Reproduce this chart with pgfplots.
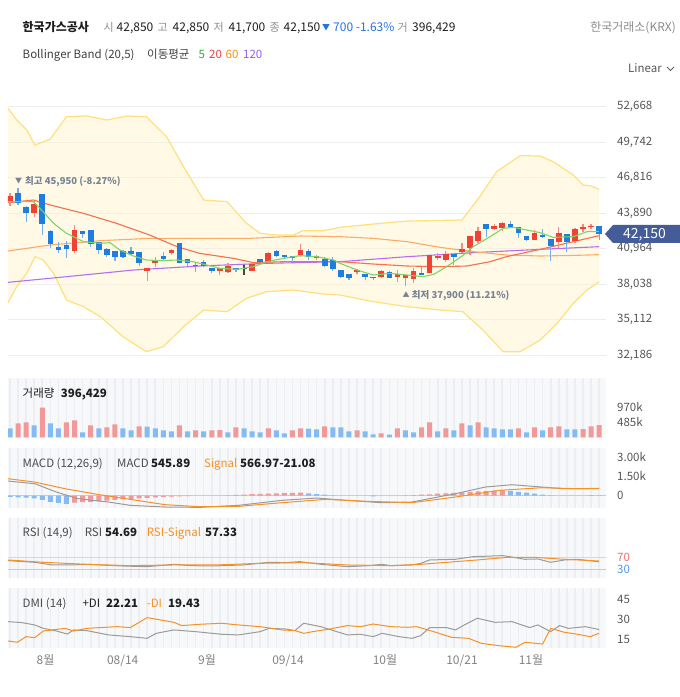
\documentclass[border=0pt]{standalone}
\usepackage{pgfplots}
\pgfplotsset{compat=1.18}
\usepackage{pgfplotstable}
\usepackage{fontspec}
\setmainfont{Noto Sans CJK KR}

\definecolor{candleup}{RGB}{240,66,52}
\definecolor{candledn}{RGB}{30,125,222}
\definecolor{wickup}{RGB}{244,140,130}
\definecolor{wickdn}{RGB}{115,172,230}
\definecolor{bandline}{RGB}{255,224,125}
\definecolor{bandfill}{RGB}{255,243,205}
\definecolor{maG}{RGB}{125,212,105}
\definecolor{maR}{RGB}{246,112,78}
\definecolor{maO}{RGB}{250,172,102}
\definecolor{maP}{RGB}{178,112,240}
\definecolor{gridc}{RGB}{236,238,242}
\definecolor{panelbg}{RGB}{247,248,250}
\definecolor{stripe}{RGB}{236,238,243}
\definecolor{volred}{RGB}{242,152,152}
\definecolor{volblue}{RGB}{132,187,245}
\definecolor{lgrey}{RGB}{155,155,155}
\definecolor{lorange}{RGB}{247,145,35}
\definecolor{ticktxt}{RGB}{85,85,85}
\definecolor{hdrgrey}{RGB}{140,140,140}
\definecolor{dark}{RGB}{30,30,30}
\definecolor{downblue}{RGB}{35,115,225}
\definecolor{annot}{RGB}{120,130,150}
\definecolor{tagblue}{RGB}{68,92,152}
\definecolor{zeroline}{RGB}{205,205,205}
\definecolor{rsired}{RGB}{240,110,110}
\definecolor{rsiblue}{RGB}{80,150,235}
\definecolor{rsiredl}{RGB}{250,200,200}
\definecolor{rsibluel}{RGB}{175,212,250}
\definecolor{dojic}{RGB}{70,70,70}
\definecolor{legG}{RGB}{40,180,40}
\definecolor{legR}{RGB}{240,60,60}
\definecolor{legO}{RGB}{250,140,20}
\definecolor{legP}{RGB}{150,90,240}
\definecolor{dategrey}{RGB}{130,130,130}

% candles: i open high low close
\pgfplotstableread{
i o h l c
0 44835 45577 44477 45302
3 43872 44917 43542 44642
8 40765 42910 40627 42497
17 39142 39400 38290 39390
18 39747 40297 39417 40022
20 40627 40900 40435 40847
26 39115 39400 38785 39390
27 38997 39747 38990 39527
30 39115 39747 39100 39692
32 39885 40650 39880 40627
36 40435 41342 40297 40847
38 40160 40435 40022 40352
43 39005 39250 38840 39197
46 38647 39197 38565 39115
48 38647 39197 38235 38840
49 38565 38800 37900 38785
50 38427 39335 38097 39115
52 38977 40450 38922 40435
53 40160 40570 40022 40352
54 40022 40765 39885 40517
56 40710 41452 40627 40930
57 40985 42020 40435 42002
58 41590 42772 41396 42442
60 42552 42992 42497 42827
61 42635 43185 42415 43102
65 41672 42497 41660 42277
68 41535 42772 40985 42222
70 41617 42635 41396 42552
71 42552 42992 42305 42772
72 42717 42992 42552 42850
}\upc

\pgfplotstableread{
i o h l c
1 45522 45950 44560 44697
2 44422 44500 43185 43872
4 45440 45480 42085 42965
5 42442 42460 41040 41315
6 41122 41480 40627 40847
7 41260 41600 40160 40930
9 42415 42430 41810 42167
10 42497 42510 41122 41315
11 41480 41500 40517 40847
12 40930 41040 40297 40435
13 40792 40800 39940 40297
14 40792 40860 40160 40297
15 40792 41122 40435 40517
16 40710 40720 39527 39747
19 40352 40710 40022 40105
21 41397 41452 39747 39747
22 40077 40090 39527 39747
23 39637 39885 39060 39527
24 39885 40022 39417 39527
25 39390 39400 38922 39115
28 39390 39400 39060 39197
31 40105 40110 39880 39885
33 40765 40850 40297 40352
34 40462 40470 40160 40242
35 40380 40390 39885 40160
37 40765 40930 40022 40242
39 40105 40297 39417 39555
40 40022 40297 39142 39252
41 39197 39210 38510 38592
42 38840 38850 38372 38510
44 38867 38880 38372 38647
45 38647 38660 38372 38510
47 39060 39115 38510 38565
51 38922 39417 38780 38785
55 40517 40530 39610 40242
59 42992 43000 41892 42580
62 42992 43267 42760 42772
63 42717 42730 41810 42222
64 42002 42010 41590 41672
66 42085 42552 41810 41892
67 41727 41740 39967 41177
69 42167 42180 40655 41535
73 42850 42850 41700 42150
}\dnc

\pgfplotstableread{
i o h l c
29 39360 39610 38785 39310
}\flc

% volume (thousands)
\pgfplotstableread{
i v
1 455
2 487
4 964
7 487
8 552
10 390
12 325
13 422
16 357
21 390
23 227
25 227
26 235
28 325
32 292
35 227
36 292
39 357
43 227
46 130
48 292
51 325
52 487
54 292
56 455
58 487
63 292
65 325
67 325
68 357
71 265
72 357
73 396.429
}\volr

\pgfplotstableread{
i v
0 292
3 390
5 455
6 292
9 162
11 292
14 292
15 227
17 350
18 292
19 227
20 195
22 195
24 195
27 162
29 292
30 195
31 162
33 227
34 130
37 285
38 260
40 325
41 320
42 195
44 195
45 97
47 90
49 227
50 162
53 195
55 227
57 390
59 325
60 292
61 260
62 255
64 162
66 227
69 260
70 255
}\volb

% MACD histogram
\pgfplotstableread{
i v
8 -540
9 -500
10 -480
11 -430
12 -380
13 -330
14 -290
15 -250
16 -210
17 -170
18 -130
19 -100
20 -80
21 -60
22 -40
27 26
28 60
29 90
30 120
31 145
32 165
33 185
34 205
35 225
36 230
49 26
50 50
51 80
52 110
53 150
54 180
55 220
56 260
57 290
58 330
59 360
60 390
61 410
72 40
}\hr

\pgfplotstableread{
i v
0 -100
1 -120
2 -150
3 -200
4 -330
5 -480
6 -560
7 -620
37 180
38 128
39 77
40 26
45 -50
62 360
63 300
64 230
65 160
66 80
67 25
73 -21.08
}\hb

\pgfplotsset{
  panel/.style={anchor=south west, scale only axis, width=598pt,
    xmin=-0.248, xmax=73.85, axis line style={draw=none},
    axis background/.style={fill=panelbg},
    xtick={0,...,73}, xticklabel=\empty, xmajorgrids, ymajorgrids=false,
    x grid style={stripe, line width=1.6pt}, scaled y ticks=false,
    major tick length=0pt, yticklabel pos=right,
    yticklabel style={anchor=west, inner sep=0pt, xshift=11pt,
      font=\fontsize{11.5}{13}\selectfont, text=ticktxt},
    /pgf/number format/assume math mode=true, clip=true}
}

\begin{document}
\begin{tikzpicture}[x=1pt,y=1pt,font=\fontsize{12}{14}\selectfont]
\useasboundingbox (0pt,0pt) rectangle (680pt,697pt);

% ---------------- main price panel ----------------
\begin{axis}[at={(8pt,332pt)}, anchor=south west, scale only axis,
  width=598pt, height=270pt, xmin=-0.248, xmax=73.85, ymin=31361, ymax=53633,
  axis line style={draw=none}, xtick=\empty, scaled y ticks=false,
  ytick={32186,35112,38038,40964,43890,46816,49742,52668},
  yticklabels={{32,186},{35,112},{38,038},{40,964},{43,890},{46,816},{49,742},{52,668}},
  ymajorgrids, y grid style={gridc, line width=0.8pt},
  major tick length=0pt, yticklabel pos=right,
  yticklabel style={anchor=west, inner sep=0pt, xshift=11pt,
    font=\fontsize{11.5}{13}\selectfont, text=ticktxt},
  /pgf/number format/assume math mode=true, clip=true]

% Bollinger band area (upper band forward, lower band backward)
\addplot[fill=bandfill, fill opacity=0.5, draw=none] coordinates {
(-0.25,52534) (0.83,51571) (2.07,50746) (3.1,49508) (4.96,49976) (7.0,51846)
(9.5,51901) (12,51571) (14.5,51901) (16.9,51846) (19.4,50196) (21.5,47721)
(24,44971) (26.9,44833) (29.3,43046) (31,42221) (33,42083) (35.1,42083)
(36.3,42441) (38.8,42441) (40.9,42716) (45,42991) (49.2,43238) (51.7,43266)
(56,43321) (58.2,45246) (60.3,47309) (63.2,48629) (65.7,48600) (67.3,48134)
(69.8,47034) (71,46209) (71.9,46150) (73,45851)
(73,38233) (71.5,37546) (69.8,36446) (67.8,34796) (65.7,33421) (63.2,32459)
(61.1,32459) (58.6,34246) (56.1,35758) (53.3,35896) (49.2,36171) (45,36583)
(40.9,37133) (38.8,37216) (35.1,37546) (31.8,37408) (29.3,36858) (26.9,35758)
(24,35896) (21.5,34521) (19,32871) (16.9,32459) (14,33696) (11.2,35346)
(9.1,36171) (7,36721) (5.4,38921) (4.1,40021) (3.1,40296) (2.07,38921)
(0.83,37821) (-0.25,36500)} -- cycle;

\addplot[bandline, line width=1.2pt] coordinates {
(-0.25,52534) (0.83,51571) (2.07,50746) (3.1,49508) (4.96,49976) (7.0,51846)
(9.5,51901) (12,51571) (14.5,51901) (16.9,51846) (19.4,50196) (21.5,47721)
(24,44971) (26.9,44833) (29.3,43046) (31,42221) (33,42083) (35.1,42083)
(36.3,42441) (38.8,42441) (40.9,42716) (45,42991) (49.2,43238) (51.7,43266)
(56,43321) (58.2,45246) (60.3,47309) (63.2,48629) (65.7,48600) (67.3,48134)
(69.8,47034) (71,46209) (71.9,46150) (73,45851)};
\addplot[bandline, line width=1.2pt] coordinates {
(-0.25,36500) (0.83,37821) (2.07,38921) (3.1,40296) (4.1,40021) (5.4,38921)
(7,36721) (9.1,36171) (11.2,35346) (14,33696) (16.9,32459) (19,32871)
(21.5,34521) (24,35896) (26.9,35758) (29.3,36858) (31.8,37408) (35.1,37546)
(38.8,37216) (40.9,37133) (45,36583) (49.2,36171) (53.3,35896) (56.1,35758)
(58.6,34246) (61.1,32459) (63.2,32459) (65.7,33421) (67.8,34796) (69.8,36446)
(71.5,37546) (73,38233)};

% moving averages
\addplot[maP, line width=1.1pt] coordinates {
(-0.25,38178) (7,38646) (15.3,39196) (23.5,39526) (31.8,39746) (40.9,39883)
(49.2,40296) (57.4,40626) (65.7,40901) (73,41121)};
\addplot[maO, line width=1.1pt] coordinates {
(-0.25,40763) (4.96,41258) (11.2,41616) (17.3,41808) (23.5,41808) (29.7,41808)
(36,42001) (40.9,41946) (45,41808) (49.2,41533) (53.3,41066) (57.4,40708)
(61.5,40433) (65.7,40351) (69.8,40400) (73,40461)};
\addplot[maR, line width=1.1pt] coordinates {
(-0.25,44751) (2.9,44971) (5,44558) (9.1,43871) (13.2,43046) (17.3,42083)
(20.7,41121) (23.5,40571) (27.7,40158) (30.2,39801) (33.9,39883) (38,39883)
(40.9,39883) (45,39691) (49.2,39526) (53.3,39471) (56.6,39526) (59.5,39883)
(61.5,40296) (65.7,40901) (69.8,41533) (73,42028)};

% candles: wicks (low -> high)
\addplot[wickup, line width=1.2pt, quiver={u=0, v=\thisrow{h}-\thisrow{l}}, -] table[x=i, y=l] {\upc};
\addplot[wickdn, line width=1.2pt, quiver={u=0, v=\thisrow{h}-\thisrow{l}}, -] table[x=i, y=l] {\dnc};
\addplot[dojic, line width=1.2pt, quiver={u=0, v=\thisrow{h}-\thisrow{l}}, -] table[x=i, y=l] {\flc};
% candles: bodies (open -> close)
\addplot[candleup, line width=5.6pt, quiver={u=0, v=\thisrow{c}-\thisrow{o}}, -] table[x=i, y=o] {\upc};
\addplot[candledn, line width=5.6pt, quiver={u=0, v=\thisrow{c}-\thisrow{o}}, -] table[x=i, y=o] {\dnc};
\addplot[dojic, line width=5.6pt, quiver={u=0, v=\thisrow{c}-\thisrow{o}}, -] table[x=i, y=o] {\flc};

\addplot[maG, line width=1.1pt] coordinates {
(-0.25,44833) (2.9,44833) (4.1,44008) (5.4,43046) (7,42221) (9.1,41533)
(11.2,41396) (12.4,41450) (13.6,40846) (15.3,40351) (16.9,40021) (18.6,39970)
(20.7,40021) (22.7,39883) (24.4,39608) (26,39333) (28.1,39250) (30.2,39471)
(31.8,39883) (33.9,40158) (35.9,40378) (38,40300) (40.1,40021) (40.9,39746)
(43,39196) (45,38783) (47.1,38920) (49.2,38783) (51.2,38646) (52.5,38838)
(54.1,39471) (56.2,40433) (57.4,41121) (59.5,41946) (61.1,42633) (62.4,42716)
(64,42496) (65.7,42276) (67.3,41891) (69.8,41946) (71.5,42358) (73,42358)};
\end{axis}

% ---------------- volume ----------------
\begin{axis}[panel, at={(8pt,258.7pt)}, height=60pt, ymin=-32.5, ymax=1917.5,
  ytick={485,970}, yticklabels={485k,970k}]
\addplot[ybar, bar width=5pt, bar shift=0pt, fill=volred, draw=none] table[x=i,y=v] {\volr};
\addplot[ybar, bar width=5pt, bar shift=0pt, fill=volblue, draw=none] table[x=i,y=v] {\volb};
\end{axis}

% ---------------- MACD ----------------
\begin{axis}[panel, at={(8pt,189.3pt)}, height=59.4pt, ymin=-923, ymax=3645,
  ytick={0,1500,3000}, yticklabels={0,1.50k,3.00k}]
\addplot[zeroline, line width=0.8pt] coordinates {(-0.3,0) (74,0)};
\addplot[ybar, bar width=5pt, bar shift=0pt, fill=volred, draw=none] table[x=i,y=v] {\hr};
\addplot[ybar, bar width=5pt, bar shift=0pt, fill=volblue, draw=none] table[x=i,y=v] {\hb};
\addplot[lgrey, line width=1pt] coordinates {
(-0.25,1126) (3.06,922) (5.75,282) (8.4,-230) (12.2,-486) (14.9,-742) (19.2,-870)
(23.5,-896) (28.3,-742) (33.7,-358) (38,-179) (41.7,-358) (46,-538) (49.8,-486)
(55.2,154) (58.9,666) (62.2,845) (65.9,666) (68.6,538) (73,546)};
\addplot[lorange, line width=1pt] coordinates {
(-0.25,1306) (3.06,1050) (6.8,538) (11.1,77) (14.9,-282) (19.2,-691) (23.5,-845)
(28.3,-819) (33.7,-538) (39.1,-282) (44.4,-435) (49.8,-538) (55.2,-102)
(60.6,410) (65.9,614) (70.2,538) (73,567)};
\end{axis}

% ---------------- RSI ----------------
\begin{axis}[panel, at={(8pt,119.3pt)}, height=59.4pt, ymin=0.3, ymax=203.3,
  ytick={30,70}, yticklabels={\textcolor{rsiblue}{30},\textcolor{rsired}{70}}]
\addplot[rsiredl, line width=0.8pt] coordinates {(-0.3,70) (74,70)};
\addplot[rsibluel, line width=0.8pt] coordinates {(-0.3,30) (74,30)};
\addplot[lgrey, line width=1pt] coordinates {
(-0.25,58.6) (3.06,52.9) (5.2,43.8) (7.4,43.8) (9.5,46) (13.8,40.4) (17,38)
(20.3,46) (22.4,41.5) (25.1,40.4) (28.9,43.8) (32.1,52.9) (34.2,51.8) (35.9,55.2)
(38.5,46) (41.8,38) (44.5,41.5) (46.1,46) (47.2,41.5) (49.8,43.8) (50.9,49.5)
(52,60.9) (55.2,63.2) (57.4,72.3) (61.1,75.7) (63.8,63.2) (65.4,64.3) (67,52.9)
(68.7,60.9) (70.3,63.2) (73,54.7)};
\addplot[lorange, line width=1pt] coordinates {
(-0.25,60.9) (4.14,52.9) (9.5,46) (14.9,41.5) (20.3,43.8) (25.6,43.8) (31,49.5)
(36.4,51.8) (41.8,43.8) (47.2,41.5) (50.9,46) (55.2,55.2) (57.9,60.9) (61.7,70)
(64.9,70) (68.7,63.2) (73,57.3)};
\end{axis}

% ---------------- DMI ----------------
\begin{axis}[panel, at={(8pt,48.7pt)}, height=60pt, ymin=7.92, ymax=53.6,
  ytick={15,30,45}]
\addplot[lgrey, line width=1pt] coordinates {
(-0.25,28.2) (1.45,27.5) (3.06,25.7) (4.14,23.1) (5.75,21.1) (7.1,18.8) (7.9,21.9)
(9.5,21.4) (12.2,18.1) (14.9,16.8) (17,15.5) (18.1,19.3) (20.3,21.9) (23,20.6)
(26.2,18.6) (28.3,18.1) (31,20.6) (32.1,23.1) (34.2,22.6) (35.3,21.4) (36.4,27)
(38.5,24.4) (41.8,18.1) (43.4,18.6) (45,16.8) (46.1,19.3) (48.2,16.8) (49.8,15.5)
(50.9,17.6) (52,23.7) (54.1,23.7) (55.2,21.9) (56.3,25.7) (57.9,30.8) (60.1,27.7)
(62.2,28.2) (64.4,23.7) (65.4,25.7) (67,20.6) (68.1,25.2) (69.2,23.1) (71.3,24.4)
(73,22.2)};
\addplot[lorange, line width=1pt] coordinates {
(-0.25,13.5) (0.91,12.5) (1.99,16.8) (3.06,16) (4.14,21.1) (6.83,23.1) (7.9,21.1)
(9.5,23.1) (13.3,24.4) (14.9,23.7) (17,31.3) (20.3,27.7) (21.3,25.2) (23.5,26.2)
(26.2,27) (28.3,25.7) (31,24.4) (33.7,21.9) (35.3,21.4) (36.4,19.3) (37.5,20.6)
(39.6,22.6) (41.8,25.2) (43.4,24.4) (45,26.4) (47.2,24.4) (49.3,23.9) (50.4,24.4)
(52.5,20.6) (54.7,16.3) (56.8,15.5) (58.4,11.7) (60.6,9.9) (62.7,8.7) (63.8,12.5)
(66,11.2) (67,23.1) (68.7,20.1) (70.3,18.6) (71.9,16.8) (73,19.4)};
\end{axis}

% ---------------- header ----------------
\begin{scope}[every node/.style={inner sep=0pt, anchor=base west}]
\node[text=dark] at (22.5,665.5) {\bfseries 한국가스공사};
\begin{scope}[font=\fontsize{11}{13}\selectfont]
\node[text=hdrgrey] at (103.5,665.5) {시};
\node[text=hdrgrey] at (157.5,665.5) {고};
\node[text=hdrgrey] at (213.5,665.5) {저};
\node[text=hdrgrey] at (269.5,665.5) {종};
\node[text=hdrgrey] at (397.5,665.5) {거};
\end{scope}
\node[text=dark] at (116.5,665.5) {42,850};
\node[text=dark] at (172.5,665.5) {42,850};
\node[text=dark] at (228.5,665.5) {41,700};
\node[text=dark] at (283.5,665.5) {42,150};
\node[text=downblue, font=\fontsize{8}{9}\selectfont] at (322,666.5) {▼};
\node[text=downblue] at (333,665.5) {700 -1.63\%};
\node[text=dark] at (412,665.5) {396,429};
\node[text=hdrgrey, anchor=base east] at (676,665.5) {한국거래소(KRX)};

\begin{scope}[font=\fontsize{11.5}{13}\selectfont]
\node[text=dark!85] at (22.5,638.5) {Bollinger Band (20,5)};
\node[text=dark!85] at (147,638.5) {이동평균};
\node[text=legG] at (198.5,638.5) {5};
\node[text=legR] at (209,638.5) {20};
\node[text=legO] at (225.5,638.5) {60};
\node[text=legP] at (243,638.5) {120};
\node[text=dark!75] at (628,624) {Linear};

% panel legends
\node[text=dark] at (22.5,299.5) {거래량};
\node[text=dark] at (60.7,299.5) {\bfseries 396,429};

\node[text=dark!80] at (22.5,229.5) {MACD (12,26,9)};
\node[text=dark!80] at (117,229.5) {MACD};
\node[text=dark] at (151,229.5) {\bfseries 545.89};
\node[text=lorange] at (204,229.5) {Signal};
\node[text=dark] at (240,229.5) {\bfseries 566.97-21.08};

\node[text=dark!80] at (22.5,160.5) {RSI (14,9)};
\node[text=dark!80] at (84.6,160.5) {RSI};
\node[text=dark] at (105,160.5) {\bfseries 54.69};
\node[text=lorange] at (146.6,160.5) {RSI-Signal};
\node[text=dark] at (205,160.5) {\bfseries 57.33};

\node[text=dark!80] at (22.5,89.5) {DMI (14)};
\node[text=dark] at (82.4,89.5) {+DI};
\node[text=dark] at (106,89.5) {\bfseries 22.21};
\node[text=lorange] at (146.6,89.5) {-DI};
\node[text=dark] at (168,89.5) {\bfseries 19.43};
\end{scope}

% annotations
\node[text=annot, font=\fontsize{7}{8}\selectfont] at (15,513) {▼};
\node[text=annot, font=\fontsize{9.5}{11}\selectfont\bfseries] at (25,512) {최고 45,950 (-8.27\%)};
\node[text=annot, font=\fontsize{7}{8}\selectfont] at (402.5,399.5) {▲};
\node[text=annot, font=\fontsize{9.5}{11}\selectfont\bfseries] at (411.7,398.5) {최저 37,900 (11.21\%)};
\end{scope}

\draw[dark!70, line width=0.8pt] (667,630) -- (670.5,626.5) -- (674,630);

% price tag
\fill[tagblue] (605,463) -- (613,472) -- (680,472) -- (680,454) -- (613,454) -- cycle;
\node[text=white, inner sep=0pt, anchor=base west, font=\fontsize{14}{16}\selectfont] at (623,458) {42,150};

% dates
\begin{scope}[every node/.style={inner sep=0pt, anchor=base, text=dategrey}]
\node at (45.5,32.5) {8월};
\node at (122.7,32.5) {08/14};
\node at (207,32.5) {9월};
\node at (288,32.5) {09/14};
\node at (385,32.5) {10월};
\node at (462,32.5) {10/21};
\node at (531,32.5) {11월};
\end{scope}
\end{tikzpicture}
\end{document}
